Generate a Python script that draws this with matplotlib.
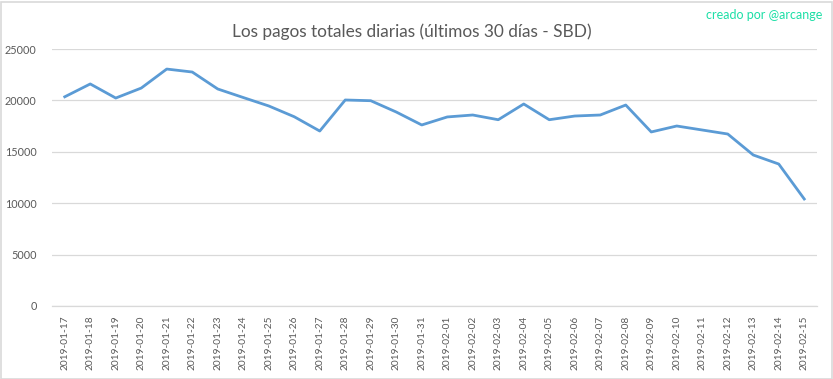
import matplotlib.pyplot as plt
from matplotlib.patches import Rectangle

dates = ['2019-01-17', '2019-01-18', '2019-01-19', '2019-01-20', '2019-01-21',
         '2019-01-22', '2019-01-23', '2019-01-24', '2019-01-25', '2019-01-26',
         '2019-01-27', '2019-01-28', '2019-01-29', '2019-01-30', '2019-01-31',
         '2019-02-01', '2019-02-02', '2019-02-03', '2019-02-04', '2019-02-05',
         '2019-02-06', '2019-02-07', '2019-02-08', '2019-02-09', '2019-02-10',
         '2019-02-11', '2019-02-12', '2019-02-13', '2019-02-14', '2019-02-15']
payouts = [20350, 21600, 20230, 21200, 23050,
           22760, 21110, 20280, 19460, 18410,
           17020, 20040, 19970, 18870, 17610,
           18390, 18580, 18120, 19650, 18120,
           18480, 18580, 19550, 16930, 17510,
           17120, 16730, 14690, 13810, 10410]
y_ticks = [0, 5000, 10000, 15000, 20000, 25000]

plt.rcParams['font.family'] = ['Lato', 'DejaVu Sans']
text_color = '#595959'
grid_color = '#D9D9D9'

fig = plt.figure(figsize=(8.33, 3.79), dpi=100)
ax = fig.add_axes([52 / 833, 1 - 306 / 379, (817 - 52) / 833, (306 - 49) / 379])

x = range(len(dates))
ax.plot(x, payouts, color='#5B9BD5', linewidth=2.0, solid_joinstyle='round')

ax.set_xlim(-0.5, len(dates) - 0.5)
ax.set_ylim(0, 25000)
ax.set_yticks(y_ticks)
ax.set_yticklabels([str(v) for v in y_ticks])
ax.set_xticks(list(x))
ax.set_xticklabels(dates, rotation=90)
ax.tick_params(axis='x', length=0, labelsize=7.3, labelcolor=text_color, pad=7)
ax.tick_params(axis='y', length=0, labelsize=7.8, labelcolor=text_color, pad=11)

ax.grid(axis='y', color=grid_color, linewidth=0.9)
ax.set_axisbelow(True)
for side in ['top', 'right', 'left']:
    ax.spines[side].set_visible(False)
ax.spines['bottom'].set_color(grid_color)
ax.spines['bottom'].set_linewidth(0.9)

fig.text(412 / 833, 1 - 32 / 379, 'Los pagos totales diarias (últimos 30 días - SBD)',
         ha='center', va='center', fontsize=12.4, color=text_color)
fig.text(822 / 833, 1 - 15 / 379, 'creado por @arcange',
         ha='right', va='center', fontsize=9, color='#1CDFA6')

fig.patches.append(Rectangle((0.5 / 833, 0.5 / 379), 1 - 2 / 833, 1 - 2 / 379,
                             transform=fig.transFigure, fill=False,
                             edgecolor=grid_color, linewidth=1.2))

plt.savefig('out.png', dpi=100)
